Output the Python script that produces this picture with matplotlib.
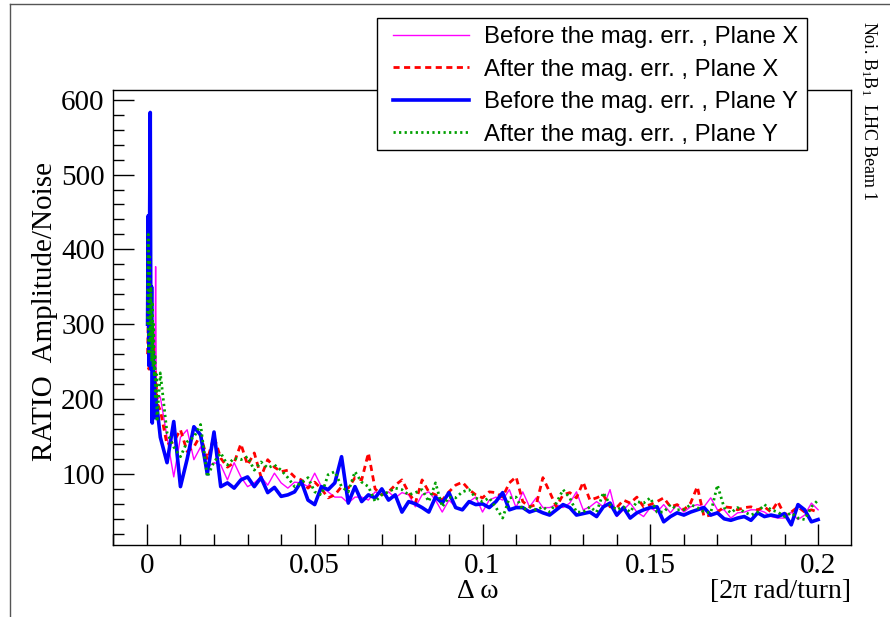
import numpy as np
import matplotlib.pyplot as plt
from matplotlib.lines import Line2D
from matplotlib.patches import Rectangle
from matplotlib.ticker import MultipleLocator, FuncFormatter

plt.rcParams['mathtext.default'] = 'regular'

# x: dense points near zero, then a regular grid up to 0.2
x_head = np.round(np.arange(0.0002, 0.00301, 0.0002), 4)
x_grid = np.round(np.arange(0.004, 0.2001, 0.002), 3)
x = np.concatenate([x_head, x_grid])

# Before the mag. err., Plane X (magenta)
before_x = [280, 330, 250, 320, 270, 300, 240, 310, 260, 290, 230, 250, 377, 210, 200,
            203, 149, 96, 149, 159, 119, 136, 109, 115, 112,
            92, 115, 96, 83, 88, 96, 85, 101, 88, 81,
            89, 88, 83, 101, 83, 76, 69, 69, 61, 69,
            69, 65, 76, 72, 76, 68, 75, 72, 56, 72,
            76, 65, 49, 65, 56, 52, 63, 69, 49, 65,
            69, 65, 79, 55, 76, 56, 68, 55, 55, 59,
            55, 61, 76, 52, 56, 63, 56, 79, 43, 52,
            61, 49, 43, 55, 49, 59, 48, 59, 49, 56,
            59, 56, 68, 52, 52, 41, 48, 49, 52, 52,
            49, 43, 41, 41, 49, 39, 45, 61, 52]

# After the mag. err., Plane X (red)
after_x = [260, 300, 240, 346, 280, 320, 250, 300, 230, 270, 210, 240, 200, 220, 195,
           185, 139, 143, 159, 130, 136, 152, 119, 150, 121,
           109, 115, 140, 112, 128, 96, 119, 109, 103, 105,
           96, 92, 81, 89, 80, 68, 72, 83, 81, 95,
           92, 128, 80, 72, 76, 85, 92, 75, 61, 92,
           76, 72, 65, 76, 85, 89, 79, 72, 68, 76,
           75, 69, 88, 96, 63, 56, 59, 95, 76, 56,
           72, 75, 68, 89, 65, 68, 72, 56, 55, 65,
           61, 69, 56, 59, 63, 68, 56, 59, 52, 61,
           83, 43, 45, 49, 56, 55, 52, 55, 56, 52,
           56, 49, 63, 45, 49, 56, 49, 52, 49]

# Before the mag. err., Plane Y (blue)
before_y = [300, 445, 245, 430, 583, 240, 350, 168, 260, 200, 230, 175, 200, 181, 190,
            149, 115, 170, 83, 120, 163, 152, 100, 156, 83,
            88, 81, 92, 96, 83, 95, 75, 82, 70, 72,
            76, 90, 65, 59, 83, 79, 88, 123, 61, 83,
            63, 72, 68, 80, 65, 72, 49, 63, 60, 55,
            49, 69, 61, 75, 55, 52, 63, 59, 60, 55,
            63, 75, 52, 55, 55, 49, 52, 48, 45, 52,
            59, 55, 45, 47, 49, 43, 56, 61, 45, 55,
            41, 48, 52, 55, 56, 36, 43, 48, 45, 49,
            52, 55, 45, 48, 40, 38, 41, 43, 38, 48,
            43, 45, 43, 47, 32, 59, 52, 36, 39]

# After the mag. err., Plane Y (green)
after_y = [300, 420, 260, 390, 280, 350, 250, 330, 243, 300, 230, 260, 200, 233, 170,
           235, 155, 136, 123, 143, 149, 166, 96, 116, 128,
           112, 121, 119, 123, 105, 116, 108, 112, 105, 95,
           83, 88, 95, 76, 72, 99, 103, 83, 76, 103,
           89, 83, 63, 72, 76, 81, 79, 72, 75, 79,
           63, 88, 56, 69, 68, 76, 79, 68, 63, 68,
           55, 41, 68, 69, 52, 56, 52, 56, 49, 61,
           79, 68, 49, 49, 56, 49, 75, 59, 52, 56,
           49, 63, 61, 68, 49, 49, 59, 52, 52, 59,
           55, 49, 48, 85, 55, 48, 55, 49, 45, 49,
           59, 52, 49, 43, 48, 41, 39, 56, 65]

labels = ['Before the mag. err. , Plane X', 'After the mag. err. , Plane X',
          'Before the mag. err. , Plane Y', 'After the mag. err. , Plane Y']

W, H = 890, 617
fig = plt.figure(figsize=(W / 100, H / 100), dpi=100)
ax = fig.add_axes([113 / W, 1 - 545 / H, (851 - 113) / W, (545 - 90) / H])

ax.plot(x, before_x, color='#ff00ff', lw=1.0, label=labels[0])
ax.plot(x, after_x, color='#ff0000', lw=2.0, dashes=(2.2, 1.6), label=labels[1])
ax.plot(x, before_y, color='#0000ff', lw=2.6, label=labels[2])
ax.plot(x, after_y, color='#00a000', lw=2.0, dashes=(0.8, 1.2), label=labels[3])

ax.set_xlim(-0.0101, 0.2098)
ax.set_ylim(5, 613)

ax.xaxis.set_major_locator(MultipleLocator(0.05))
ax.xaxis.set_minor_locator(MultipleLocator(0.01))
ax.yaxis.set_major_locator(MultipleLocator(100))
ax.yaxis.set_minor_locator(MultipleLocator(20))
ax.xaxis.set_major_formatter(FuncFormatter(lambda v, p: '%g' % round(v, 3)))
ax.yaxis.set_major_formatter(FuncFormatter(lambda v, p: '%d' % v))
ax.tick_params(which='both', direction='in', top=False, right=False, width=1)
ax.tick_params(which='major', length=15, pad=6)
ax.tick_params(which='minor', length=8)
for lab in ax.get_xticklabels() + ax.get_yticklabels():
    lab.set_family('Liberation Serif')
    lab.set_fontsize(21)
for s in ax.spines.values():
    s.set_linewidth(1)

fig.text(45 / W, 1 - 312 / H, 'RATIO  Amplitude/Noise', rotation=90,
         ha='center', va='center', family='Liberation Serif', fontsize=21)
fig.text(478 / W, 1 - 592 / H, 'Δ ω', ha='center', va='center',
         family='Liberation Serif', fontsize=20)
fig.text(851 / W, 1 - 592 / H, '[2π rad/turn]', ha='right', va='center',
         family='Liberation Serif', fontsize=20)
fig.text(869 / W, 1 - 21 / H, 'Noi. B$_1$B$_1$  LHC Beam 1', rotation=-90,
         ha='center', va='top', family='Liberation Serif', fontsize=13)

# legend box drawn separately so its padding matches
fig.add_artist(Rectangle((377 / W, 1 - 150 / H), (807 - 377) / W, (150 - 18) / H,
                         transform=fig.transFigure, facecolor='white',
                         edgecolor='black', lw=1, zorder=4))
handles, _ = ax.get_legend_handles_labels()
leg = fig.legend(handles, labels, loc='upper left', bbox_to_anchor=(393 / W, 1 - 26 / H),
                 prop={'family': 'Liberation Sans', 'size': 17.2}, frameon=False,
                 handlelength=3.2, handletextpad=0.62, borderpad=0, labelspacing=0.44,
                 borderaxespad=0)
leg.set_zorder(6)

# outer pad frame
fig.add_artist(Line2D([10 / W, 10 / W], [0, 1 - 4 / H], color='#555555', lw=1))
fig.add_artist(Line2D([10 / W, 1], [1 - 4 / H, 1 - 4 / H], color='#555555', lw=1))

fig.savefig('out.png', dpi=100)
